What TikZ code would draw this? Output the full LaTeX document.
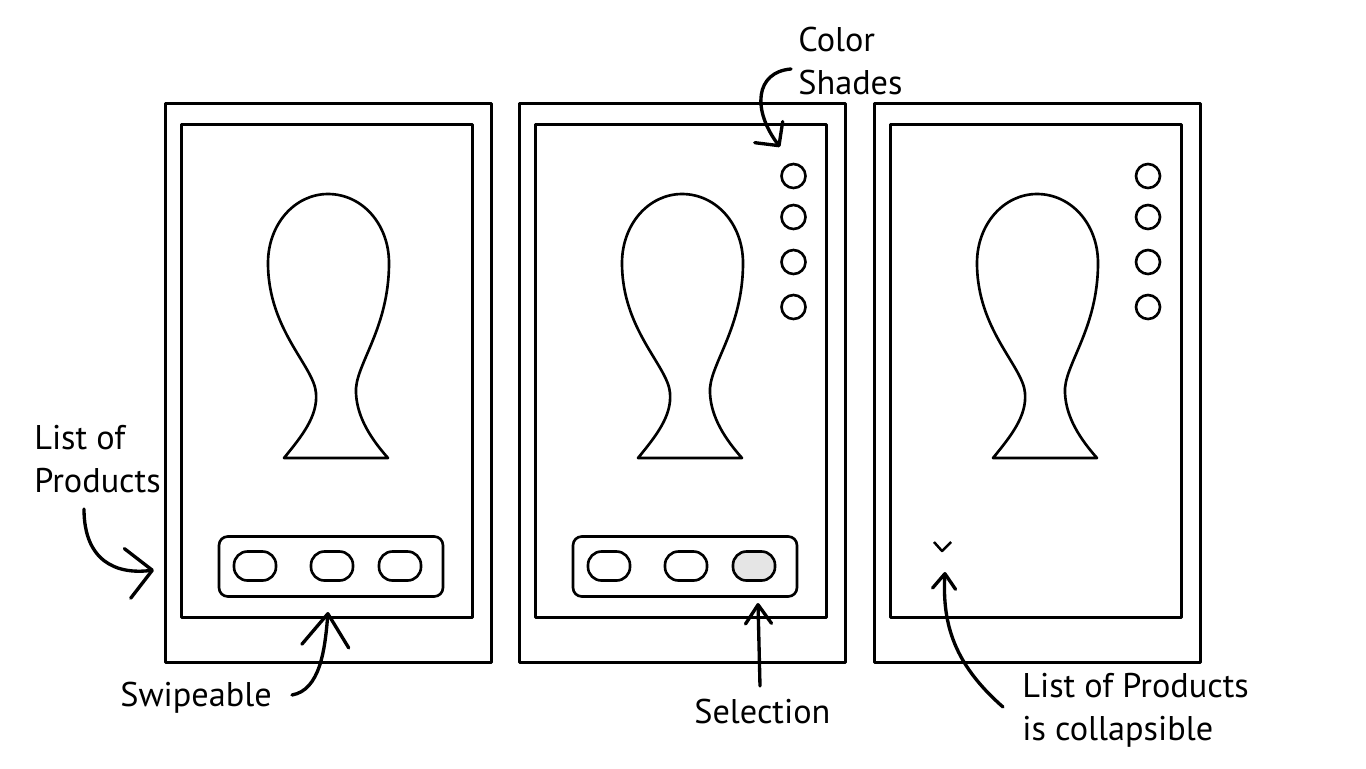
\documentclass[tikz,border=0pt]{standalone}
\usepackage{fontspec}
\setmainfont{PT Sans}
\usetikzlibrary{arrows.meta}

\begin{document}
\begin{tikzpicture}[
  x=0.02cm, y=-0.02cm,
  line join=round,
  phone/.style={draw, line width=1.7pt, minimum width=6.54cm, minimum height=11.2cm, inner sep=0pt},
  screen/.style={draw, line width=1.7pt, minimum width=5.84cm, minimum height=9.88cm, inner sep=0pt},
  tray/.style={draw, line width=1.5pt, rounded corners=5pt, minimum width=4.48cm, minimum height=1.2cm, inner sep=0pt},
  pill/.style={draw, line width=1.5pt, rounded corners=0.27cm, minimum width=0.84cm, minimum height=0.58cm, inner sep=0pt},
  shade/.style={draw, circle, line width=1.5pt, minimum size=0.48cm, inner sep=0pt},
  bulb/.style={line width=1.5pt},
  lbl/.style={font=\fontsize{19.5}{24.4}\selectfont, align=left, inner sep=0pt},
  note/.style={line width=1.9pt, line cap=round},
  tip/.style 2 args={-{Straight Barb[round, length=#1, width=#2]}}
]
  \useasboundingbox (0,0) rectangle (1366,768);

  % three phone screens with the product
  \foreach \i/\dx in {1/0, 2/354, 3/709} {
    \node[phone]  (ph\i) at (328.5+\dx, 383) {};
    \node[screen] (sc\i) at (327+\dx, 371) {};
    \draw[bulb, shift={(\dx,0)}] (284,458) .. controls (302,436) and (318,416) .. (316,393)
      .. controls (314,366) and (268,330) .. (268,263)
      .. controls (268,224) and (295,194) .. (328,194)
      .. controls (362,194) and (389,224) .. (389,263)
      .. controls (389,330) and (354,366) .. (356,393)
      .. controls (357,418) and (372,440) .. (388,458) -- cycle;
  }

  % product list at the bottom
  \foreach \i/\dx/\sel in {1/0/white, 2/354/gray!20} {
    \node[tray] (tray\i) at (331+\dx, 566.5) {};
    \node[pill] (pa\i) at (255+\dx, 566) {};
    \node[pill] (pb\i) at (332+\dx, 566) {};
    \node[pill, fill=\sel] (pc\i) at (400+\dx, 566) {};
  }

  % colour shades
  \foreach \i/\cx in {2/793.5, 3/1148}
    \foreach \k/\cy in {1/176, 2/217, 3/262, 4/307}
      \node[shade] (c\i\k) at (\cx, \cy) {};

  % collapse chevron
  \draw[line width=1.4pt] (934,542) -- (942,551) -- (951,542);

  % labels (base = last line)
  \node[lbl, anchor=base west] (lblList)  at (34,492)   {List of\\Products};
  \node[lbl, anchor=base west] (lblSwipe) at (120,706)  {Swipeable};
  \node[lbl, anchor=base west] (lblSel)   at (694,723)  {Selection};
  \node[lbl, anchor=base west] (lblShade) at (798,94)   {Color\\Shades};
  \node[lbl, anchor=base west] (lblColl)  at (1022,740) {List of Products\\is collapsible};

  \coordinate (listFrom)  at (84,509);
  \coordinate (listTo)    at (154,570);
  \coordinate (swipeFrom) at (292,695);
  \coordinate (swipeTo)   at (328,612);
  \coordinate (selFrom)   at (760,686);
  \coordinate (selTo)     at (758,603);
  \coordinate (shadeFrom) at (791,69);
  \coordinate (shadeTo)   at (780,147);
  \coordinate (collFrom)  at (1003,707);
  \coordinate (collTo)    at (945,572);

  % callouts
  \draw[note, tip={5mm}{10mm}] (listFrom) .. controls (84,560) and (115,575) .. (listTo);
  \draw[note, tip={6.5mm}{9.4mm}] (swipeFrom) .. controls (320,690) and (325,650) .. (swipeTo);
  \draw[note, tip={3.8mm}{5.2mm}] (selFrom) -- (selTo);
  \draw[note, tip={3.4mm}{7mm}] (shadeFrom) .. controls (755,72) and (752,110) .. (shadeTo);
  \draw[note, tip={3mm}{4.6mm}] (collFrom) .. controls (955,665) and (942,625) .. (collTo);
\end{tikzpicture}
\end{document}
